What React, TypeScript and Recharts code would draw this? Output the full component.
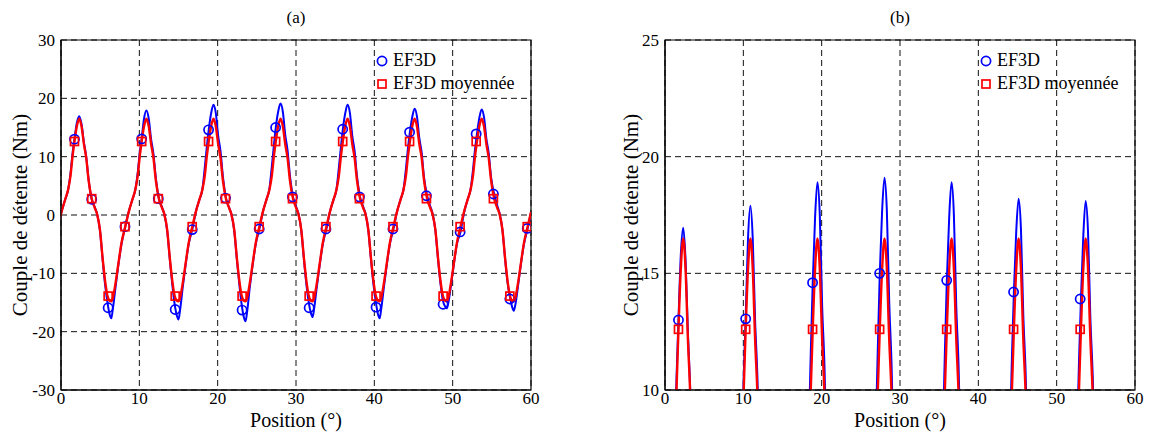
import {
  ComposedChart,
  Line,
  Scatter,
  XAxis,
  YAxis,
  CartesianGrid,
  ReferenceArea,
} from "recharts";

// positions of the seven main peaks (°)
const peakPos = [2.32, 10.9, 19.46, 28.02, 36.58, 45.14, 53.7];
// sampling offsets (°) around each peak
const sampleOffsets = [
  -2.7, -2.2, -1.8, -1.4, -1.1, -0.85, -0.6, -0.3, 0, 0.3, 0.6, 0.9, 1.2, 1.6,
  2.0, 2.3, 2.65, 3.0, 3.3, 3.6, 3.9, 4.1, 4.3, 4.65, 5.0, 5.4,
];

// EF3D curve, one row per period
const ef3dPeriods = [
  [-2.0, 0.8, 2.6, 4.4, 7.2, 10.5, 13.0, 15.8, 16.95, 15.6, 12.5, 10.0, 6.1, 2.7, 1.3, 0.1, -2.6, -7.7, -11.8, -14.9, -17.1, -17.7, -16.1, -12.3, -8.6, -5.0],
  [-2.0, 0.8, 2.6, 4.4, 7.3, 10.6, 13.1, 16.5, 17.9, 16.5, 13.0, 10.5, 6.4, 2.8, 1.3, 0.1, -2.6, -7.7, -11.8, -15.2, -17.3, -17.9, -16.3, -12.3, -8.6, -5.0],
  [-2.5, 0.8, 2.6, 4.5, 8.2, 11.6, 14.6, 17.4, 18.9, 17.5, 13.6, 11.0, 6.7, 2.9, 1.3, 0.1, -2.6, -7.7, -11.8, -15.3, -17.6, -18.2, -16.6, -12.3, -8.6, -5.0],
  [-2.4, 0.8, 2.6, 4.6, 8.4, 11.8, 15.0, 17.7, 19.1, 17.7, 13.8, 11.1, 6.8, 3.1, 1.4, 0.2, -2.6, -7.7, -11.8, -14.9, -16.9, -17.5, -16.0, -12.2, -8.6, -5.0],
  [-2.4, 0.8, 2.6, 4.5, 8.2, 11.6, 14.7, 17.4, 18.9, 17.5, 13.6, 11.0, 6.7, 3.1, 1.4, 0.2, -2.6, -7.7, -11.8, -14.8, -17.1, -17.7, -16.1, -12.3, -8.6, -5.0],
  [-2.4, 0.8, 2.6, 4.5, 8.0, 11.4, 14.2, 16.8, 18.2, 16.9, 13.2, 10.7, 6.5, 3.3, 1.5, 0.2, -2.6, -7.7, -11.7, -14.6, -15.7, -16.0, -15.1, -12.0, -8.5, -5.0],
  [-2.9, 0.7, 2.6, 4.5, 7.8, 11.2, 13.9, 16.6, 18.1, 16.8, 13.1, 10.6, 6.5, 3.6, 1.6, 0.2, -2.5, -7.6, -11.5, -13.9, -15.8, -16.4, -15.4, -12.1, -8.5, -5.0],
];

// EF3D moyennée curve, one row per period
const moyPeriods = [
  [-2.0, 0.8, 2.6, 4.4, 6.8, 10.0, 12.6, 15.2, 16.5, 15.2, 12.2, 9.8, 6.0, 2.8, 1.2, 0.1, -2.5, -7.5, -11.2, -13.8, -14.7, -14.8, -14.2, -11.6, -8.4, -4.8],
  [-2.0, 0.8, 2.6, 4.4, 6.8, 10.0, 12.6, 15.2, 16.5, 15.2, 12.2, 9.8, 6.0, 2.8, 1.2, 0.1, -2.5, -7.5, -11.2, -13.8, -14.7, -14.8, -14.2, -11.6, -8.4, -4.8],
  [-2.0, 0.8, 2.6, 4.4, 6.8, 10.0, 12.6, 15.2, 16.5, 15.2, 12.2, 9.8, 6.0, 2.8, 1.2, 0.1, -2.5, -7.5, -11.2, -13.8, -14.7, -14.8, -14.2, -11.6, -8.4, -4.8],
  [-2.0, 0.8, 2.6, 4.4, 6.8, 10.0, 12.6, 15.2, 16.5, 15.2, 12.2, 9.8, 6.0, 2.8, 1.2, 0.1, -2.5, -7.5, -11.2, -13.8, -14.7, -14.8, -14.2, -11.6, -8.4, -4.8],
  [-2.0, 0.8, 2.6, 4.4, 6.8, 10.0, 12.6, 15.2, 16.5, 15.2, 12.2, 9.8, 6.0, 2.8, 1.2, 0.1, -2.5, -7.5, -11.2, -13.8, -14.7, -14.8, -14.2, -11.6, -8.4, -4.8],
  [-2.0, 0.8, 2.6, 4.4, 6.8, 10.0, 12.6, 15.2, 16.5, 15.2, 12.2, 9.8, 6.0, 2.8, 1.2, 0.1, -2.5, -7.5, -11.2, -13.8, -14.7, -14.8, -14.2, -11.6, -8.4, -4.8],
  [-2.0, 0.8, 2.6, 4.4, 6.8, 10.0, 12.6, 15.2, 16.5, 15.2, 12.2, 9.8, 6.0, 2.8, 1.2, 0.1, -2.5, -7.5, -11.2, -13.8, -14.7, -14.8, -14.2, -11.6, -8.4, -4.8],
];

// end of the curves after the last period
const tailPos = [59.57, 60];
const ef3dTail = [-2.3, 0.4];
const moyTail = [-2.0, 0.5];

// marker points
const markerPos = [
  1.72, 3.92, 6.02, 8.17, 10.3, 12.42, 14.58, 16.75, 18.84, 21.0, 23.12, 25.3,
  27.4, 29.55, 31.68, 33.82, 35.96, 38.1, 40.22, 42.38, 44.5, 46.65, 48.78,
  50.95, 53.0, 55.2, 57.3, 59.52,
];
const ef3dMarkers = [
  13.0, 2.7, -15.9, -2.0, 13.05, 2.8, -16.2, -2.5, 14.6, 2.9, -16.3, -2.4, 15.0,
  3.1, -15.9, -2.4, 14.7, 3.1, -15.8, -2.4, 14.2, 3.3, -15.3, -2.9, 13.9, 3.6,
  -14.4, -2.3,
];
const moyMarkers = [
  12.6, 2.8, -13.9, -2.0, 12.6, 2.8, -13.9, -2.0, 12.6, 2.8, -13.9, -2.0, 12.6,
  2.8, -13.9, -2.0, 12.6, 2.8, -13.9, -2.0, 12.6, 2.8, -13.9, -2.0, 12.6, 2.8,
  -13.9, -2.0,
];

const xTicks = [0, 10, 20, 30, 40, 50, 60];
const yTicksA = [-30, -20, -10, 0, 10, 20, 30];
const yTicksB = [10, 15, 20, 25];

const BLUE = "#0000FF";
const RED = "#FF0000";
const FONT = "Liberation Serif, DejaVu Serif, serif";

const curve: { x: number; ef3d: number; moy: number }[] = [];
peakPos.forEach((p, k) => {
  sampleOffsets.forEach((o, j) => {
    curve.push({
      x: Math.round((p + o) * 100) / 100,
      ef3d: ef3dPeriods[k][j],
      moy: moyPeriods[k][j],
    });
  });
});
tailPos.forEach((x, i) => curve.push({ x, ef3d: ef3dTail[i], moy: moyTail[i] }));

const circles = markerPos.map((x, i) => ({ x, y: ef3dMarkers[i] }));
const squares = markerPos.map((x, i) => ({ x, y: moyMarkers[i] }));

const Circle = (props: any) => (
  <circle cx={props.cx} cy={props.cy} r={4.6} fill="none" stroke={BLUE} strokeWidth={1.7} />
);
const Square = (props: any) => (
  <rect x={props.cx - 4} y={props.cy - 4} width={8} height={8} fill="none" stroke={RED} strokeWidth={1.7} />
);

function LegendBox() {
  return (
    <div style={{ position: "absolute", left: 375, top: 49, fontFamily: FONT, fontSize: 18, lineHeight: "23px", color: "#000" }}>
      <div style={{ display: "flex", alignItems: "center" }}>
        <svg width={14} height={14} style={{ marginRight: 4 }}>
          <circle cx={7} cy={7} r={4.6} fill="none" stroke={BLUE} strokeWidth={1.7} />
        </svg>
        EF3D
      </div>
      <div style={{ display: "flex", alignItems: "center" }}>
        <svg width={14} height={14} style={{ marginRight: 4 }}>
          <rect x={3} y={3} width={8} height={8} fill="none" stroke={RED} strokeWidth={1.7} />
        </svg>
        EF3D moyennée
      </div>
    </div>
  );
}

function Panel({ left, title, domain, yTicks, labelOffset }: { left: number; title: string; domain: [number, number]; yTicks: number[]; labelOffset: number }) {
  const visible = (d: { y: number }) => d.y >= domain[0] && d.y <= domain[1];
  return (
    <div style={{ position: "absolute", left, top: 0, width: 545, height: 434 }}>
      <div style={{ position: "absolute", left: 61, width: 470, top: 8, textAlign: "center", fontFamily: FONT, fontSize: 17 }}>
        {title}
      </div>
      <ComposedChart width={545} height={434} data={curve} margin={{ top: 40, right: 14, bottom: 0, left: 0 }}>
        <CartesianGrid stroke="#111" strokeDasharray="6 4" />
        <XAxis
          type="number"
          dataKey="x"
          domain={[0, 60]}
          ticks={xTicks}
          allowDataOverflow
          height={44}
          tickLine={false}
          tickSize={2}
          tickMargin={0}
          axisLine={{ stroke: "#000" }}
          tick={{ fontSize: 17, fill: "#000", fontFamily: FONT }}
          label={{ value: "Position (°)", position: "insideBottom", offset: 7, style: { fontSize: 20, fill: "#000", fontFamily: FONT } }}
        />
        <YAxis
          type="number"
          domain={domain}
          ticks={yTicks}
          allowDataOverflow
          width={61}
          tickLine={false}
          tickSize={4}
          tickMargin={2}
          axisLine={{ stroke: "#000" }}
          tick={{ fontSize: 17, fill: "#000", fontFamily: FONT }}
          label={{ value: "Couple de détente (Nm)", angle: -90, position: "insideLeft", offset: labelOffset, style: { textAnchor: "middle", fontSize: 21, fill: "#000", fontFamily: FONT } }}
        />
        <ReferenceArea x1={0} x2={60} y1={domain[0]} y2={domain[1]} fill="none" stroke="#000" strokeWidth={1.2} ifOverflow="visible" />
        <Line type="monotone" dataKey="ef3d" stroke={BLUE} strokeWidth={2} dot={false} activeDot={false} isAnimationActive={false} />
        <Line type="monotone" dataKey="moy" stroke={RED} strokeWidth={2.4} dot={false} activeDot={false} isAnimationActive={false} />
        <Scatter data={circles.filter(visible)} dataKey="y" shape={Circle} isAnimationActive={false} />
        <Scatter data={squares.filter(visible)} dataKey="y" shape={Square} isAnimationActive={false} />
      </ComposedChart>
      <LegendBox />
    </div>
  );
}

export default function App() {
  return (
    <div style={{ position: "absolute", left: 0, top: 0, width: 1149, height: 434, background: "#fff", overflow: "hidden" }}>
      <Panel left={0} title="(a)" domain={[-30, 30]} yTicks={yTicksA} labelOffset={20} />
      <Panel left={604} title="(b)" domain={[10, 25]} yTicks={yTicksB} labelOffset={27} />
    </div>
  );
}
